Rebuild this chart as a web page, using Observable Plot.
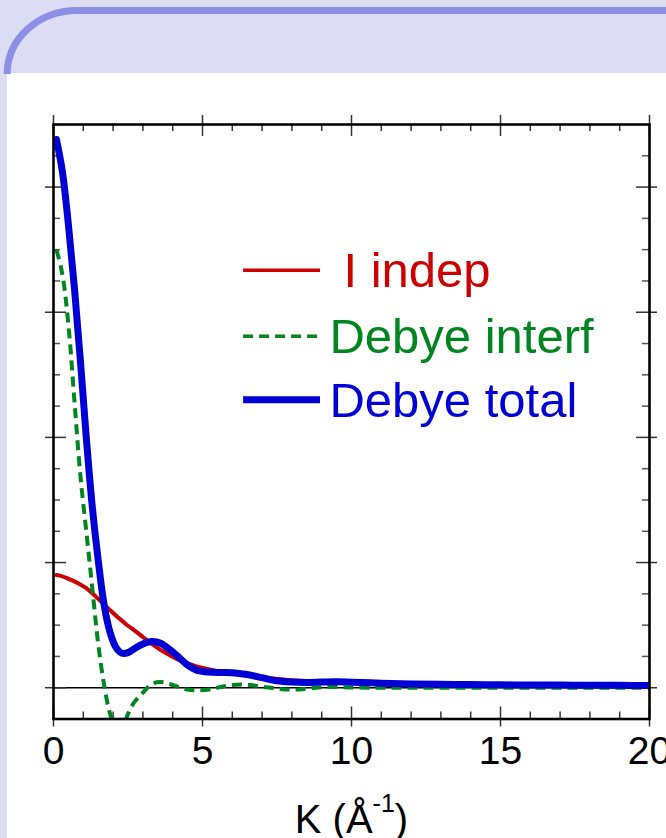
<!DOCTYPE html>
<html>
<head>
<meta charset="utf-8">
<script src="https://cdn.jsdelivr.net/npm/d3@7"></script>
<script src="https://cdn.jsdelivr.net/npm/@observablehq/plot@0.6"></script>
<style>
  html, body { margin: 0; padding: 0; }
  body { width: 666px; height: 838px; overflow: hidden; background: #dcdcf5; position: relative;
         font-family: "Liberation Sans", Arial, Helvetica, sans-serif; }
  #panel { position: absolute; left: 7px; top: 73.3px; right: 0; bottom: 0; background: #ffffff; }
  #header { position: absolute; left: 0; top: 0; }
  #chart { position: absolute; left: 0; top: 0; }
</style>
</head>
<body>
<div id="panel"></div>
<svg id="header" width="666" height="80">
  <path d="M 7.2 74 A 70 63.5 0 0 1 77 10.4 L 670 10.4" fill="none" stroke="#8b8fe6" stroke-width="7"/>
</svg>
<div id="chart"></div>
<script>
// ---- data ----
const k = [0.1, 0.3, 0.5, 0.7, 0.9, 1.1, 1.3, 1.5, 1.7, 1.9, 2.1, 2.3, 2.5, 2.7, 3.0, 3.3, 3.6, 3.9, 4.2, 4.5, 4.8,
           5.2, 5.6, 6.0, 6.5, 7.0, 7.5, 8.0, 8.5, 9.0, 9.5, 10, 11, 12, 13, 14, 15, 16, 17, 18, 19, 20];
const indep = [0.90, 0.89, 0.87, 0.85, 0.825, 0.795, 0.755, 0.71, 0.665, 0.62, 0.575, 0.535, 0.495, 0.46, 0.405, 0.35,
               0.30, 0.26, 0.222, 0.195, 0.17, 0.148, 0.13, 0.116, 0.10, 0.085, 0.07, 0.06, 0.053, 0.047, 0.042,
               0.039, 0.034, 0.03, 0.027, 0.025, 0.023, 0.021, 0.02, 0.019, 0.018, 0.017];
const interf = [3.50, 3.30, 2.90, 2.30, 1.70, 1.25, 0.80, 0.35, 0.02, -0.21, -0.32, -0.31, -0.21, -0.12, -0.04, 0.03,
                0.045, 0.03, 0.005, -0.015, -0.02, -0.015, 0.005, 0.022, 0.025, 0.008, -0.008, -0.015, -0.008, 0.004,
                0.006, 0.002, 0.0, 0.0, 0.0, 0.0, 0.0, 0.0, 0.0, 0.0, 0.0, 0.0];
const total = [4.38, 4.12, 3.70, 3.20, 2.62, 2.00, 1.45, 1.02, 0.66, 0.44, 0.32, 0.275, 0.28, 0.31, 0.35, 0.37,
               0.355, 0.305, 0.245, 0.18, 0.14, 0.125, 0.122, 0.12, 0.105, 0.08, 0.055, 0.045, 0.042, 0.045, 0.047,
               0.044, 0.036, 0.03, 0.027, 0.025, 0.023, 0.022, 0.021, 0.02, 0.019, 0.018];

const xTickLabels = [0, 5, 10, 15, 20];
const xMinorTicks = [1, 2, 3, 4, 6, 7, 8, 9, 11, 12, 13, 14, 16, 17, 18, 19];
const yMajorTicks = [0, 1, 2, 3, 4];
const yMinorTicks = [0.25, 0.5, 0.75, 1.25, 1.5, 1.75, 2.25, 2.5, 2.75, 3.25, 3.5, 3.75, 4.25];
const seriesNames = ["I indep", "Debye interf", "Debye total"];
const xLabel = "K (Å-1)";

// ---- layout / style ----
const W = 666, H = 838;
const mL = 53, mR = 17, mT = 124, mB = 119.5;
const fw = W - mL - mR, fh = H - mT - mB;
const RED = "#cc0000", GREEN = "#008520", BLUE = "#0000d4";
const font = "Liberation Sans, Arial, Helvetica, sans-serif";
// legend placement (data units)
const legend = [
  {name: seriesNames[0], y: 3.336, x1: 6.38, x2: 8.96, tx: 9.73, color: RED},
  {name: seriesNames[1], y: 2.808, x1: 6.38, x2: 8.96, tx: 9.26, color: GREEN},
  {name: seriesNames[2], y: 2.30, x1: 6.38, x2: 8.96, tx: 9.26, color: BLUE}
];

const rows = k.map((kk, i) => ({k: kk, indep: indep[i], interf: interf[i], total: total[i]}));
const tickStroke = "#333";

const chart = Plot.plot({
  width: W, height: H,
  marginLeft: mL, marginRight: mR, marginTop: mT, marginBottom: mB,
  style: {background: "transparent", fontFamily: font, color: "black"},
  x: {domain: [0, 20], axis: null},
  y: {domain: [-0.25, 4.5], axis: null},
  marks: [
    // zero line
    Plot.ruleY([0], {stroke: "black", strokeWidth: 1.4}),
    // x ticks (bottom & top)
    Plot.ruleX(xTickLabels, {x: d => d, insetTop: fh - 12, insetBottom: -8, stroke: tickStroke, strokeWidth: 1.5}),
    Plot.ruleX(xTickLabels, {x: d => d, insetTop: -9, insetBottom: fh - 12, stroke: tickStroke, strokeWidth: 1.5}),
    Plot.ruleX(xMinorTicks, {x: d => d, insetTop: fh - 7, stroke: tickStroke, strokeWidth: 1.5}),
    Plot.ruleX(xMinorTicks, {x: d => d, insetBottom: fh - 7, stroke: tickStroke, strokeWidth: 1.5}),
    // y ticks (left & right)
    Plot.ruleY(yMajorTicks, {y: d => d, insetLeft: -8, insetRight: fw - 13, stroke: tickStroke, strokeWidth: 1.5}),
    Plot.ruleY(yMajorTicks, {y: d => d, insetLeft: fw - 13, insetRight: -8, stroke: tickStroke, strokeWidth: 1.5}),
    Plot.ruleY(yMinorTicks, {y: d => d, insetRight: fw - 7, stroke: "#555", strokeWidth: 1.5}),
    Plot.ruleY(yMinorTicks, {y: d => d, insetLeft: fw - 7, stroke: "#555", strokeWidth: 1.5}),
    // curves
    Plot.line(rows, {x: "k", y: "indep", stroke: RED, strokeWidth: 4, curve: "catmull-rom", clip: true}),
    Plot.line(rows, {x: "k", y: "interf", stroke: GREEN, strokeWidth: 4, strokeDasharray: "10,6",
                     strokeLinecap: "butt", curve: "catmull-rom", clip: true}),
    Plot.line(rows, {x: "k", y: "total", stroke: BLUE, strokeWidth: 7, curve: "catmull-rom", clip: true}),
    // frame
    Plot.frame({stroke: "black", strokeWidth: 2.6}),
    // x tick labels
    Plot.axisX(xTickLabels, {anchor: "bottom", tickSize: 0, tickPadding: 17, fontSize: 39,
                             fontFamily: font, fill: "black"}),
    // x label
    Plot.text([xLabel], {frameAnchor: "bottom", dy: 113.5, lineAnchor: "bottom", fontSize: 40,
                         fontFamily: font, fill: "black"}),
    // legend
    Plot.ruleY([legend[0]], {y: "y", x1: "x1", x2: "x2", stroke: RED, strokeWidth: 3.5}),
    Plot.ruleY([legend[1]], {y: "y", x1: "x1", x2: "x2", stroke: GREEN, strokeWidth: 3.5, strokeDasharray: "10,6"}),
    Plot.ruleY([legend[2]], {y: "y", x1: "x1", x2: "x2", stroke: BLUE, strokeWidth: 7}),
    Plot.text(legend, {x: "tx", y: "y", text: "name", fill: "color", textAnchor: "start", lineAnchor: "middle",
                       dy: 1.5, fontSize: 49, fontFamily: font})
  ]
});

document.getElementById("chart").appendChild(chart);

// superscript in the x label
d3.select(chart).selectAll("text").each(function() {
  if (this.textContent === xLabel) {
    const t = d3.select(this);
    t.text(null);
    t.append("tspan").text("K (Å");
    t.append("tspan").attr("dy", -21).attr("font-size", 25).text("-1");
    t.append("tspan").attr("dy", 21).text(")");
  }
});
</script>
</body>
</html>
